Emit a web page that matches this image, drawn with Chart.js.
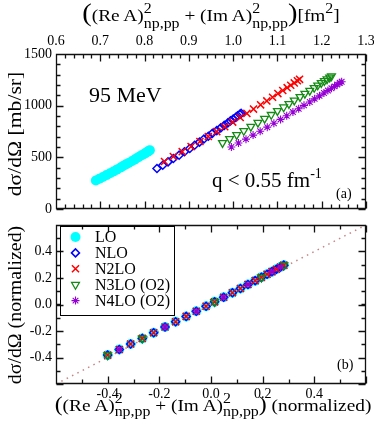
<!DOCTYPE html>
<html><head><meta charset="utf-8">
<script src="https://cdn.jsdelivr.net/npm/chart.js@4.4.0/dist/chart.umd.min.js"></script>
<style>
html,body{margin:0;padding:0;background:#fff;}
#wrap{position:relative;width:374px;height:436px;overflow:hidden;font-family:'Liberation Serif','Times New Roman',serif;color:#000;}
canvas{position:absolute;left:0;}
#c1{top:0;} #c2{top:215px;}
.t{position:absolute;white-space:nowrap;line-height:1;}
.ttl{font-size:17px;}
.bp{font-size:25px;line-height:0;}
.bp2{font-size:21px;line-height:0;}
.sp{position:relative;font-size:14px;line-height:0;}
.yt{font-size:18px;}
</style></head>
<body><div id="wrap">
<canvas id="c1" width="374" height="218"></canvas>
<canvas id="c2" width="374" height="221"></canvas>
<div class="t ttl" data-w="258" data-tf="translateX(-50%)" style="left:211px;top:7px;transform:translateX(-50%)"><span class="bp">(</span>(Re A)<span class="sp" style="top:-8px">2</span><span class="sp" style="top:7px;margin-left:-7px">np,pp</span> + (Im A)<span class="sp" style="top:-8px">2</span><span class="sp" style="top:7px;margin-left:-7px">np,pp</span><span class="bp">)</span>[fm<span class="sp" style="top:-8px">2</span>]</div>
<div class="t ttl" data-w="317" data-tf="translateX(-50%)" style="left:213px;top:397px;transform:translateX(-50%)"><span class="bp2">(</span>(Re A)<span class="sp" style="top:-8px">2</span><span class="sp" style="top:5px;margin-left:-7px">np,pp</span> + (Im A)<span class="sp" style="top:-8px">2</span><span class="sp" style="top:5px;margin-left:-7px">np,pp</span><span class="bp2">)</span> (normalized)</div>
<div class="t yt" data-w="125" data-tf="translate(-50%,-50%) rotate(-90deg)" style="left:15px;top:134px;transform:translate(-50%,-50%) rotate(-90deg)">dσ/dΩ [mb/sr]</div>
<div class="t yt" data-w="159" data-tf="translate(-50%,-50%) rotate(-90deg)" style="left:15px;top:305px;transform:translate(-50%,-50%) rotate(-90deg)">dσ/dΩ (normalized)</div>
<div class="t" style="left:89px;top:84px;font-size:22px;">95 MeV</div>
<div class="t" style="left:212px;top:170px;font-size:21px;">q &lt; 0.55 fm<span class="sp" style="top:-9px">-1</span></div>
<div class="t" style="left:336px;top:187px;font-size:14px;">(a)</div>
<div class="t" style="left:337px;top:358px;font-size:14px;">(b)</div>
</div>
<script>
// ---------- data ----------
const seriesNames = ['LO', 'NLO', 'N2LO', 'N3LO (O2)', 'N4LO (O2)'];

// panel (a): x = (Re A)^2 + (Im A)^2 [fm^2], y = dσ/dΩ [mb/sr]
const loX   = [0.690,0.698,0.706,0.714,0.722,0.730,0.737,0.745,0.751,0.758,0.764,0.771,0.777,0.782,0.787,0.792,0.797,0.801,0.804,0.807,0.810,0.812];
const loY   = [275,292,310,328,346,364,381,399,415,432,446,462,477,491,504,517,528,538,547,555,563,568];
const nloX  = [0.828,0.841,0.853,0.865,0.878,0.890,0.902,0.913,0.924,0.934,0.944,0.953,0.963,0.972,0.980,0.988,0.994,1.000,1.006,1.010,1.015,1.018];
const nloY  = [392,424,456,489,521,554,586,617,647,677,704,732,759,785,809,833,853,871,887,902,916,925];
const n2loX = [0.845,0.865,0.885,0.905,0.925,0.944,0.963,0.981,0.999,1.016,1.031,1.046,1.062,1.076,1.089,1.101,1.112,1.122,1.130,1.138,1.145,1.150];
const n2loY = [460,508,555,604,653,702,749,796,841,886,925,967,1008,1046,1082,1117,1147,1174,1198,1220,1241,1255];
const n3loX = [0.976,0.992,1.008,1.024,1.040,1.056,1.071,1.086,1.100,1.114,1.126,1.138,1.151,1.162,1.173,1.183,1.191,1.199,1.206,1.212,1.218,1.222];
const n3loY = [640,679,717,757,797,836,874,912,949,985,1017,1051,1085,1116,1145,1173,1197,1220,1239,1257,1274,1285];
const n4loX = [0.996,1.012,1.029,1.045,1.061,1.077,1.092,1.107,1.121,1.135,1.148,1.160,1.173,1.184,1.195,1.205,1.214,1.222,1.229,1.235,1.241,1.245];
const n4loY = [600,638,676,715,753,792,830,867,903,938,970,1003,1036,1066,1095,1122,1146,1168,1187,1204,1221,1232];

// panel (b): normalized values
const normX     = [-0.400,-0.355,-0.311,-0.266,-0.222,-0.178,-0.137,-0.096,-0.057,-0.019,0.014,0.049,0.083,0.114,0.143,0.171,0.195,0.217,0.236,0.253,0.269,0.282];
const normY     = [-0.382,-0.340,-0.298,-0.256,-0.213,-0.170,-0.130,-0.090,-0.051,-0.013,0.020,0.055,0.089,0.121,0.151,0.180,0.205,0.228,0.248,0.266,0.283,0.297];
const n3loNormX = [-0.400,-0.266,0.014,0.195,0.282];
const n3loNormY = [-0.382,-0.256,0.020,0.205,0.297];
const n4loNormX = [-0.355,-0.178,-0.057,0.049,0.143,0.236,0.269];
const n4loNormY = [-0.340,-0.170,-0.051,0.055,0.151,0.248,0.283];
const diagX = [-0.6, 0.6];
const diagY = [-0.6, 0.6];

// tick values
const topXTicks = [0.6,0.7,0.8,0.9,1.0,1.1,1.2,1.3];
const topYTicks = [0,500,1000,1500];
const botXTicks = [-0.6,-0.4,-0.2,0.0,0.2,0.4,0.6];
const botYTicks = [-0.6,-0.4,-0.2,0.0,0.2,0.4,0.6];

// ---------- helpers ----------
const pts = (xs, ys) => xs.map((x, i) => ({x, y: ys[i]}));
const steps = (a, b, s) => { const r = []; const n = Math.round((b - a) / s); for (let i = 0; i <= n; i++) r.push(a + i * s); return r; };
const FONT = "'Liberation Serif', 'Times New Roman', serif";
Chart.defaults.font.family = FONT;
Chart.defaults.color = '#000';

const styles = [
  {pointStyle: 'circle',   pointRadius: 5,   backgroundColor: '#00ffff', borderColor: '#00ffff', borderWidth: 0, order: 5},
  {pointStyle: 'rectRot',  pointRadius: 4,   backgroundColor: 'rgba(0,0,0,0)', borderColor: '#0000ff', borderWidth: 1.5, order: 4},
  {pointStyle: 'crossRot', pointRadius: 5,   backgroundColor: 'rgba(0,0,0,0)', borderColor: '#ff0000', borderWidth: 1.5, order: 3},
  {pointStyle: 'triangle', pointRadius: 4.5, pointRotation: 180, backgroundColor: 'rgba(0,0,0,0)', borderColor: '#138a13', borderWidth: 1.3, order: 2},
  {pointStyle: 'star',     pointRadius: 4,   backgroundColor: 'rgba(0,0,0,0)', borderColor: '#9400d3', borderWidth: 1.1, order: 1}
];
const mk = (i, data) => Object.assign({label: seriesNames[i], data, pointHoverRadius: styles[i].pointRadius}, styles[i]);

const frameTicks = {
  id: 'frameTicks',
  afterDraw(chart, args, o) {
    const {ctx, chartArea: a} = chart;
    const xs = chart.scales.x, ys = chart.scales.y;
    const L = Math.round(a.left) + 0.5, R = Math.round(a.right) - 0.5;
    const T = Math.round(a.top) + 0.5, B = Math.round(a.bottom) - 0.5;
    ctx.save();
    ctx.strokeStyle = '#111';
    ctx.lineWidth = 1.3;
    ctx.beginPath();
    ctx.rect(L, T, R - L, B - T);
    const tx = (vals, len) => vals.forEach(v => {
      const p = Math.round(xs.getPixelForValue(v)) + 0.5;
      ctx.moveTo(p, T); ctx.lineTo(p, T + len);
      ctx.moveTo(p, B); ctx.lineTo(p, B - len);
    });
    const ty = (vals, len) => vals.forEach(v => {
      const p = Math.round(ys.getPixelForValue(v)) + 0.5;
      ctx.moveTo(L, p); ctx.lineTo(L + len, p);
      ctx.moveTo(R, p); ctx.lineTo(R - len, p);
    });
    tx(o.xMajor, 7); tx(o.xMinor, 4); ty(o.yMajor, 7); ty(o.yMinor, 4);
    ctx.stroke();
    ctx.restore();
  }
};

const legendBox = {
  id: 'legendBox',
  afterDraw(chart) {
    const {ctx, chartArea: a} = chart;
    const x0 = Math.round(a.left) + 4.5, y0 = Math.round(a.top) + 1.5, w = 114, h = 89;
    ctx.save();
    ctx.strokeStyle = '#000'; ctx.lineWidth = 1;
    ctx.strokeRect(x0, y0, w, h);
    seriesNames.forEach((name, i) => {
      const s = styles[i];
      const y = y0 + 10.5 + i * 15.9;
      ctx.fillStyle = s.backgroundColor; ctx.strokeStyle = s.borderColor; ctx.lineWidth = s.borderWidth;
      Chart.helpers.drawPoint(ctx, {pointStyle: s.pointStyle, radius: s.pointRadius, rotation: s.pointRotation || 0, borderWidth: s.borderWidth}, x0 + 15, y);
      ctx.fillStyle = '#000';
      ctx.font = '16px ' + FONT;
      ctx.textBaseline = 'middle';
      ctx.textAlign = 'left';
      ctx.fillText(name, x0 + 34.5, y + 1);
    });
    ctx.restore();
  }
};

const fmt1 = v => (Math.abs(v) < 1e-9 ? '0.0' : Number(v).toFixed(1));
const tickFont = {family: FONT, size: 14};

new Chart(document.getElementById('c1'), {
  type: 'scatter',
  data: {datasets: [
    mk(0, pts(loX, loY)), mk(1, pts(nloX, nloY)), mk(2, pts(n2loX, n2loY)),
    mk(3, pts(n3loX, n3loY)), mk(4, pts(n4loX, n4loY))
  ]},
  options: {
    responsive: false, animation: false, devicePixelRatio: 1,
    layout: {padding: {left: 0, right: 8, top: 0, bottom: 9}},
    plugins: {legend: {display: false}, tooltip: {enabled: false},
      frameTicks: {xMajor: topXTicks, xMinor: steps(0.6, 1.3, 0.02), yMajor: topYTicks, yMinor: steps(0, 1500, 100)}},
    scales: {
      x: {type: 'linear', position: 'top', min: 0.6, max: 1.3,
        ticks: {stepSize: 0.1, callback: fmt1, font: tickFont, color: '#000', padding: 4, maxRotation: 0, autoSkip: false},
        grid: {display: false, drawTicks: false}, border: {display: false},
        afterFit: s => { s.height = 54; s.paddingLeft = 0; s.paddingRight = 0; }},
      y: {type: 'linear', min: 0, max: 1500,
        ticks: {stepSize: 500, callback: v => String(Math.round(v)), font: tickFont, color: '#000', padding: 4, autoSkip: false},
        grid: {display: false, drawTicks: false}, border: {display: false},
        afterFit: s => { s.width = 56; s.paddingTop = 0; s.paddingBottom = 0; }}
    }
  },
  plugins: [frameTicks]
});

new Chart(document.getElementById('c2'), {
  type: 'scatter',
  data: {datasets: [
    mk(0, pts(normX, normY)), mk(1, pts(normX, normY)), mk(2, pts(normX, normY)),
    mk(3, pts(n3loNormX, n3loNormY)), mk(4, pts(n4loNormX, n4loNormY)),
    {label: 'y=x', data: pts(diagX, diagY), showLine: true, pointRadius: 0, borderColor: '#c48484', borderWidth: 1.5, borderDash: [1.5, 4.5], order: 10}
  ]},
  options: {
    responsive: false, animation: false, devicePixelRatio: 1,
    layout: {padding: {left: 0, right: 8, top: 10, bottom: 15}},
    plugins: {legend: {display: false}, tooltip: {enabled: false},
      frameTicks: {xMajor: botXTicks, xMinor: steps(-0.6, 0.6, 0.1), yMajor: botYTicks, yMinor: steps(-0.6, 0.6, 0.1)}},
    scales: {
      x: {type: 'linear', position: 'bottom', min: -0.6, max: 0.6,
        ticks: {stepSize: 0.2, callback: v => (Math.abs(Math.abs(v) - 0.6) < 1e-6 ? null : fmt1(v)), font: tickFont, color: '#000', padding: 2, maxRotation: 0, autoSkip: false},
        grid: {display: false, drawTicks: false}, border: {display: false},
        afterFit: s => { s.height = 37; s.paddingLeft = 0; s.paddingRight = 0; }},
      y: {type: 'linear', min: -0.6, max: 0.6,
        ticks: {stepSize: 0.2, callback: v => (Math.abs(Math.abs(v) - 0.6) < 1e-6 ? null : fmt1(v)), font: tickFont, color: '#000', padding: 4, autoSkip: false},
        grid: {display: false, drawTicks: false}, border: {display: false},
        afterFit: s => { s.width = 56; s.paddingTop = 0; s.paddingBottom = 0; }}
    }
  },
  plugins: [frameTicks, legendBox]
});

// stretch axis titles horizontally to the reference text widths
function fitTitles() {
  document.querySelectorAll('[data-w]').forEach(el => {
    const w = el.offsetWidth;
    if (!w) return;
    const k = parseFloat(el.dataset.w) / w;
    el.style.transform = el.dataset.tf + ' scaleX(' + k.toFixed(4) + ')';
  });
}
fitTitles();
if (document.fonts && document.fonts.ready) document.fonts.ready.then(fitTitles);
</script>
</body></html>
